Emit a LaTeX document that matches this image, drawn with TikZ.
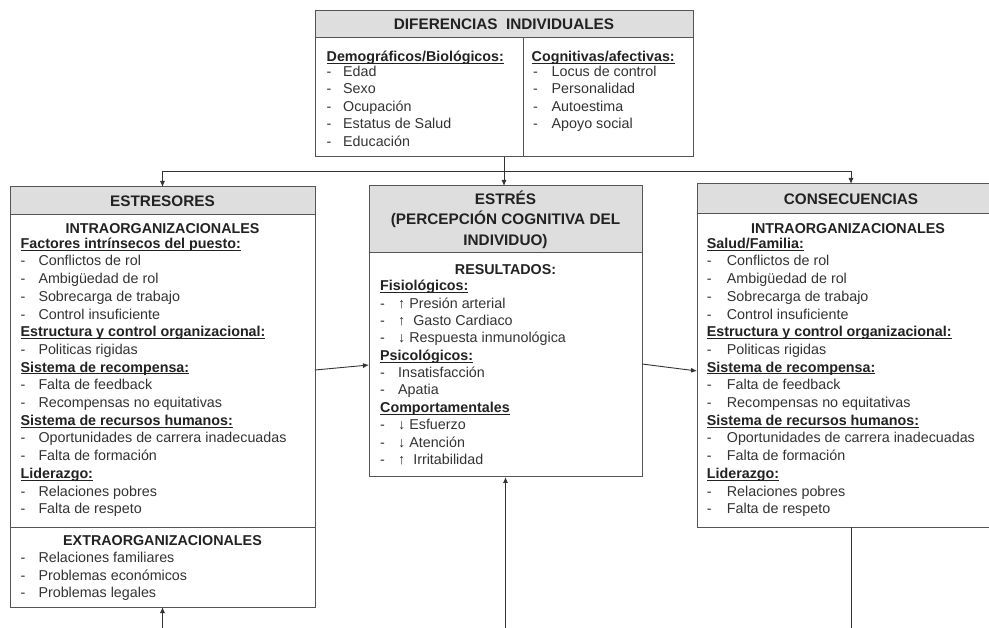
\documentclass[tikz,border=0pt]{standalone}
\usepackage{fontspec}
\setmainfont{Liberation Sans}
\usetikzlibrary{arrows.meta}

\definecolor{edge}{HTML}{555555}
\definecolor{hdrfill}{HTML}{DEDEDE}
\definecolor{ink}{HTML}{222222}
\definecolor{itemink}{HTML}{333333}
\definecolor{wirecol}{HTML}{333333}

% underlined category label (rule drawn close to the baseline)
\newcommand\ulbl[1]{\setbox0\hbox{#1}\rlap{\rule[-2.2pt]{\wd0}{0.9pt}}\box0}
% label line: name, x, baseline, text
\newcommand\catline[4]{\node[cat] (#1) at (#2,#3) {\ulbl{#4}};}
% bulleted line: name, x of dash, x of text, baseline, text
\newcommand\bulline[5]{\node[itm] (#1d) at (#2,#4) {-};\node[itm] (#1) at (#3,#4) {#5};}

\tikzset{
  panel/.style={draw=edge, line width=1pt, fill=white, anchor=north west,
                inner sep=0pt, outer sep=0pt},
  hdr/.style={panel, fill=hdrfill},
  ttl/.style={anchor=center, inner sep=0pt, text=ink, align=center,
              font=\fontsize{15.3}{20.5}\selectfont\bfseries},
  sub/.style={anchor=base, inner sep=0pt, text=ink,
              font=\fontsize{14.3}{17}\selectfont\bfseries},
  cat/.style={anchor=base west, inner sep=0pt, text=ink,
              font=\fontsize{14.3}{17}\selectfont\bfseries},
  itm/.style={anchor=base west, inner sep=0pt, text=itemink,
              font=\fontsize{14.3}{17}\selectfont},
  divider/.style={draw=edge, line width=1pt},
  wire/.style={draw=wirecol, line width=0.9pt},
  arr/.style={wire, -{Latex[length=6pt,width=5pt]}},
}

\begin{document}
\begin{tikzpicture}[x=1pt, y=-1pt]
\useasboundingbox (0,0) rectangle (989,628);

% ---------- individual differences ----------
\node[panel, minimum width=378pt, minimum height=146pt] (dif) at (315,11) {};
\node[hdr, minimum width=378pt, minimum height=27pt] (difh) at (315,11) {};
\node[ttl] (difT) at (difh.center) {DIFERENCIAS\ \ INDIVIDUALES};
\draw[divider] (523,38) -- (523,157);

\catline{demo}{326.5}{61.5}{Demográficos/Biológicos:}
\bulline{d1}{326.5}{343}{76.5}{Edad}
\bulline{d2}{326.5}{343}{94}{Sexo}
\bulline{d3}{326.5}{343}{111.5}{Ocupación}
\bulline{d4}{326.5}{343}{129}{Estatus de Salud}
\bulline{d5}{326.5}{343}{146.5}{Educación}

\catline{cogn}{531.5}{61.5}{Cognitivas/afectivas:}
\bulline{c1}{533}{551.5}{76.5}{Locus de control}
\bulline{c2}{533}{551.5}{94}{Personalidad}
\bulline{c3}{533}{551.5}{111.5}{Autoestima}
\bulline{c4}{533}{551.5}{129}{Apoyo social}

% ---------- stressors ----------
\node[panel, minimum width=305pt, minimum height=420pt] (estr) at (10,187) {};
\node[hdr, minimum width=305pt, minimum height=28pt] (estrh) at (10,187) {};
\node[ttl] (estrT) at (estrh.center) {ESTRESORES};
\draw[divider] (10,527) -- (315,527);

\node[sub] (eIntra) at (162.5,234) {INTRAORGANIZACIONALES};
\catline{eA}{20.5}{248.3}{Factores intrínsecos del puesto:}
\bulline{e1}{20.5}{38.3}{266}{Conflictos de rol}
\bulline{e2}{20.5}{38.3}{283.7}{Ambigüedad de rol}
\bulline{e3}{20.5}{38.3}{301.4}{Sobrecarga de trabajo}
\bulline{e4}{20.5}{38.3}{319.1}{Control insuficiente}
\catline{eB}{20.5}{336.8}{Estructura y control organizacional:}
\bulline{e5}{20.5}{38.3}{354.5}{Politicas rigidas}
\catline{eC}{20.5}{372.2}{Sistema de recompensa:}
\bulline{e6}{20.5}{38.3}{389.9}{Falta de feedback}
\bulline{e7}{20.5}{38.3}{407.6}{Recompensas no equitativas}
\catline{eD}{20.5}{425.3}{Sistema de recursos humanos:}
\bulline{e8}{20.5}{38.3}{443}{Oportunidades de carrera inadecuadas}
\bulline{e9}{20.5}{38.3}{460.7}{Falta de formación}
\catline{eE}{20.5}{478.4}{Liderazgo:}
\bulline{e10}{20.5}{38.3}{496.1}{Relaciones pobres}
\bulline{e11}{20.5}{38.3}{513.8}{Falta de respeto}

\node[sub] (eExtra) at (162.5,545.7) {EXTRAORGANIZACIONALES};
\bulline{x1}{20.5}{38.3}{562.5}{Relaciones familiares}
\bulline{x2}{20.5}{38.3}{580}{Problemas económicos}
\bulline{x3}{20.5}{38.3}{597.5}{Problemas legales}

% ---------- stress ----------
\node[panel, minimum width=273pt, minimum height=291pt] (stress) at (369,186) {};
\node[hdr, minimum width=273pt, minimum height=67pt] (stressh) at (369,186) {};
\node[ttl] (stressT) at (stressh.center)
  {ESTRÉS\\(PERCEPCIÓN COGNITIVA DEL\\INDIVIDUO)};

\node[sub] (res) at (505.5,274.3) {RESULTADOS:};
\catline{sA}{380}{291}{Fisiológicos:}
\bulline{s1}{380}{398}{308.5}{↑ Presión arterial}
\bulline{s2}{380}{398}{325.5}{↑\ \ Gasto Cardiaco}
\bulline{s3}{380}{398}{342.5}{↓ Respuesta inmunológica}
\catline{sB}{380}{360.5}{Psicológicos:}
\bulline{s4}{380}{398}{377.5}{Insatisfacción}
\bulline{s5}{380}{398}{395}{Apatia}
\catline{sC}{380}{412.5}{Comportamentales}
\bulline{s6}{380}{398}{430}{↓ Esfuerzo}
\bulline{s7}{380}{398}{447.5}{↓ Atención}
\bulline{s8}{380}{398}{465}{↑\ \ Irritabilidad}

% ---------- consequences ----------
\node[panel, minimum width=308pt, minimum height=343pt] (cons) at (697,184) {};
\node[hdr, minimum width=308pt, minimum height=30pt] (consh) at (697,184) {};
\node[ttl] (consT) at (consh.center) {CONSECUENCIAS};

\node[sub] (cIntra) at (848,234) {INTRAORGANIZACIONALES};
\catline{cA}{706.7}{248.3}{Salud/Familia:}
\bulline{r1}{706.7}{726.7}{266}{Conflictos de rol}
\bulline{r2}{706.7}{726.7}{283.7}{Ambigüedad de rol}
\bulline{r3}{706.7}{726.7}{301.4}{Sobrecarga de trabajo}
\bulline{r4}{706.7}{726.7}{319.1}{Control insuficiente}
\catline{cB}{706.7}{336.8}{Estructura y control organizacional:}
\bulline{r5}{706.7}{726.7}{354.5}{Politicas rigidas}
\catline{cC}{706.7}{372.2}{Sistema de recompensa:}
\bulline{r6}{706.7}{726.7}{389.9}{Falta de feedback}
\bulline{r7}{706.7}{726.7}{407.6}{Recompensas no equitativas}
\catline{cD}{706.7}{425.3}{Sistema de recursos humanos:}
\bulline{r8}{706.7}{726.7}{443}{Oportunidades de carrera inadecuadas}
\bulline{r9}{706.7}{726.7}{460.7}{Falta de formación}
\catline{cE}{706.7}{478.4}{Liderazgo:}
\bulline{r10}{706.7}{726.7}{496.1}{Relaciones pobres}
\bulline{r11}{706.7}{726.7}{513.8}{Falta de respeto}

% ---------- connectors ----------
\coordinate (rail) at (0,171);
\coordinate (floor) at (0,628);
\coordinate (hub) at (dif.south |- rail);
\coordinate (railL) at (estr.north |- rail);
\coordinate (railR) at (cons.north |- rail);
\coordinate (inL) at (estr.south |- floor);
\coordinate (inM) at (stress.south |- floor);
\coordinate (outR) at (cons.south |- floor);

\draw[wire] (dif.south) -- (hub);
\draw[wire] (railL) -- (railR);
\draw[arr] (railL) -- (estr.north);
\draw[arr] (hub) -- (hub |- stress.north);
\draw[arr] (railR) -- (cons.north);

\draw[arr] ([yshift=27pt]estr.east) -- ([yshift=-33.5pt]stress.west);
\draw[arr] ([yshift=-32.5pt]stress.east) -- ([yshift=-15.5pt]cons.west);

\draw[arr] (inL) -- (estr.south);
\draw[arr] (inM) -- (stress.south);
\draw[wire] (cons.south) -- (outR);
\end{tikzpicture}
\end{document}
